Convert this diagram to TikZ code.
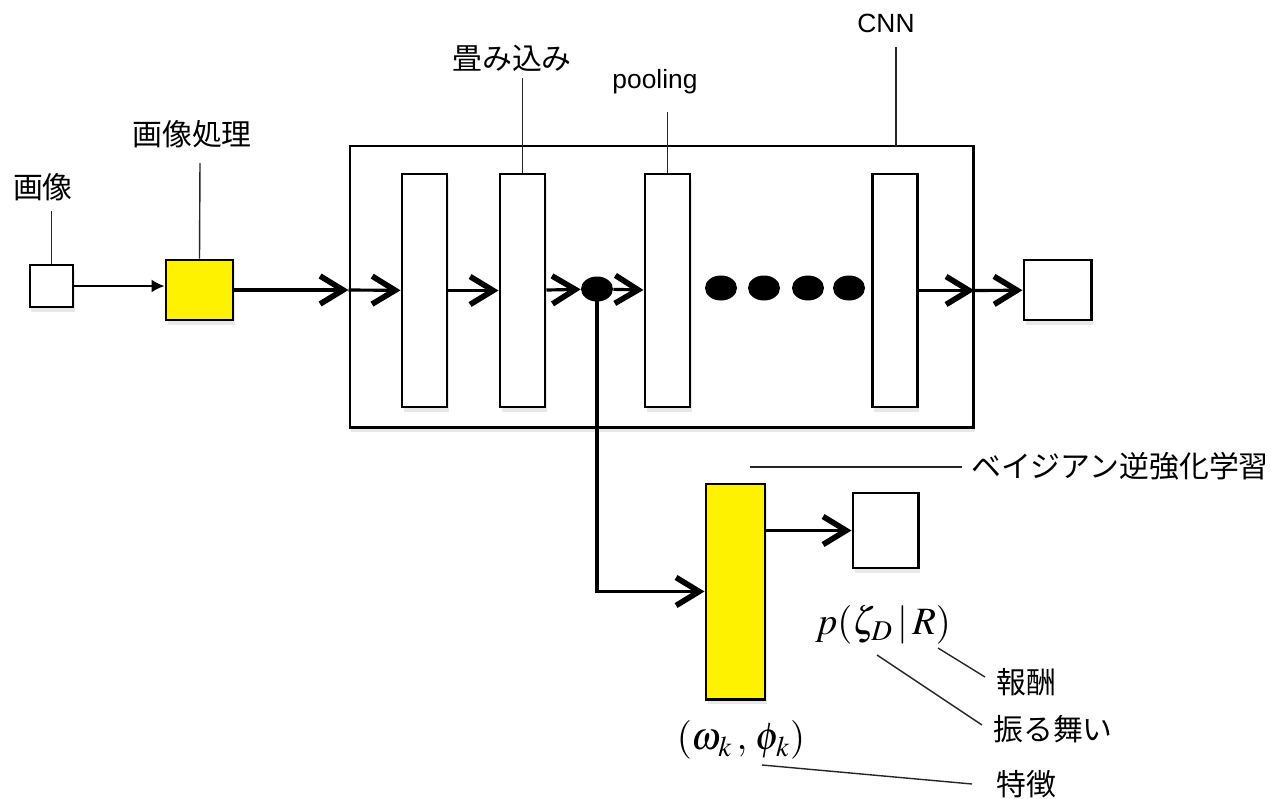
\documentclass[tikz,border=0pt]{standalone}
\usepackage{mathptmx}
\usepackage{fontspec}
\newfontfamily\jp{Noto Sans CJK JP}
\newfontfamily\lat{Liberation Sans}
\usetikzlibrary{arrows.meta, shapes.geometric, shadows}

\begin{document}
\begin{tikzpicture}[x=0.2mm, y=-0.2mm,
    shade/.style={drop shadow={shadow xshift=0.3mm, shadow yshift=-0.9mm, opacity=0.18}},
    box/.style={draw, line width=1.7pt, fill=white, inner sep=0pt, shade},
    layer/.style={box, minimum width=9mm, minimum height=46.6mm},
    ybox/.style={box, fill=yellow},
    dot/.style={ellipse, fill=black, inner sep=0pt, minimum width=6.4mm, minimum height=5mm},
    bar/.style={line width=1.8pt, -{Straight Barb[length=4.6mm, width=5.6mm, line width=3.2pt]}},
    thinarrow/.style={line width=1.1pt, -{Latex[length=2.6mm, width=2.6mm]}},
    lead/.style={line width=0.8pt, black!85},
    lbl/.style={inner sep=0pt, font=\fontsize{17}{20}\selectfont\jp},
    latlbl/.style={inner sep=0pt, font=\fontsize{15}{18}\selectfont\lat},
    mth/.style={inner sep=0pt, font=\fontsize{22}{26}\selectfont}]
    \useasboundingbox (0,0) rectangle (1271,799);

    % input and pre-processing
    \node[box, minimum width=8.6mm, minimum height=8.4mm] (img) at (51.5,286) {};
    \node[ybox, minimum width=13.4mm, minimum height=12mm] (proc) at (199.5,290) {};

    % CNN
    \node[box, minimum width=124.6mm, minimum height=56.2mm] (cnn) at (661.5,286.5) {};
    \node[layer] (c1) at (424.5,290.5) {};
    \node[layer] (c2) at (522.5,290.5) {};
    \node[layer] (pool) at (667.5,290.5) {};
    \node[layer] (c4) at (895,290.5) {};
    \node[dot] (d0) at (597,289) {};
    \foreach \x [count=\i] in {721,764,808,849}
        \node[dot] (e\i) at (\x,288) {};
    \node[box, minimum width=13.4mm, minimum height=12mm] (out) at (1057.5,290) {};

    % Bayesian IRL
    \node[ybox, minimum width=11.8mm, minimum height=43mm] (bayes) at (735.5,591.5) {};
    \node[box, minimum width=13mm, minimum height=15mm] (res) at (885.5,530.5) {};

    % connectors
    \draw[thinarrow] (img.east) -- (img.east -| proc.west);
    \draw[bar] (proc) -- (proc -| cnn.west);
    \draw[bar] (proc -| cnn.west) -- (c1);
    \draw[bar] (c1) -- (c2);
    \draw[bar] (c2) -- (d0);
    \draw[bar] (d0) -- (pool);
    \draw[bar] (c4) -- (c4 -| cnn.east);
    \draw[bar] (c4 -| cnn.east) -- (out);
    \draw[bar] (d0.center) |- (bayes.west);
    \draw[bar] (bayes.east |- res) -- (res);

    % labels
    \node[lbl] (timg) at (43,187) {画像};
    \coordinate (kimg) at (51.5,211);
    \draw[lead] (img.north) -- (kimg);

    \node[lbl] (tproc) at (192,134) {画像処理};
    \coordinate (kproc) at (200,163);
    \draw[lead] (proc.north) -- (kproc);

    \node[lbl] (tconv) at (512,58) {畳み込み};
    \coordinate (kconv) at (522.5,78);
    \draw[lead] (c2.north) -- (kconv);

    \node[latlbl] (tpool) at (655,82) {pooling};
    \coordinate (kpool) at (667.5,112);
    \draw[lead] (pool.north) -- (kpool);

    \node[latlbl] (tcnn) at (886,23) {CNN};
    \coordinate (kcnn) at (896,47);
    \coordinate (kcnnb) at (896,146);
    \draw[lead] (kcnnb) -- (kcnn);

    \node[lbl] (tbirl) at (1120,466) {ベイジアン逆強化学習};
    \coordinate (kbirla) at (750,467);
    \coordinate (kbirlb) at (962,467);
    \draw[lead] (kbirla) -- (kbirlb);

    \node[mth] (tp) at (883,625) {$p(\zeta_{D}\,|\,R)$};
    \node[mth] (tw) at (741,740) {$(\omega_{k}\,,\,\phi_{k})$};

    \node[lbl] (trew) at (1026,682) {報酬};
    \coordinate (krewa) at (938,648);
    \coordinate (krewb) at (985,677);
    \draw[lead] (krewa) -- (krewb);

    \node[lbl] (tact) at (1053,729) {振る舞い};
    \coordinate (kacta) at (877,655);
    \coordinate (kactb) at (982,725);
    \draw[lead] (kacta) -- (kactb);

    \node[lbl] (tfeat) at (1026,784) {特徴};
    \coordinate (kfeata) at (762,765);
    \coordinate (kfeatb) at (972,784);
    \draw[lead] (kfeata) -- (kfeatb);
\end{tikzpicture}
\end{document}
